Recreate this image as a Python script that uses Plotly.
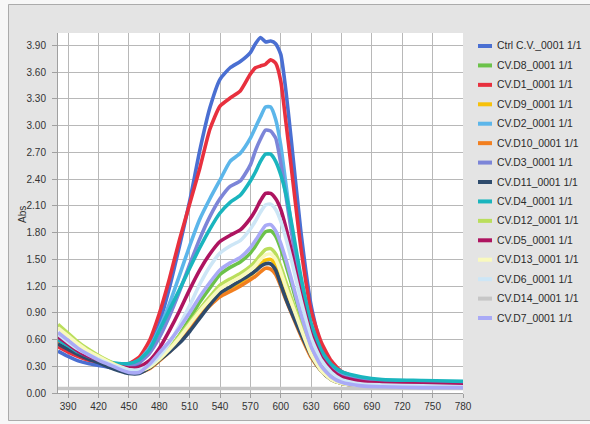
import plotly.graph_objects as go

# ---------------- data ----------------
wavelength = [380, 390, 400, 410, 420, 430, 440, 450, 460, 470, 480, 490, 500, 510, 520, 530, 540, 550, 560, 570,
              575, 580, 585, 590, 595, 600, 605, 610, 620, 630, 640, 650, 660, 680, 700, 740, 780]

ctrl = [0.47, 0.41, 0.36, 0.33, 0.31, 0.29, 0.27, 0.27, 0.33, 0.50, 0.78, 1.18, 1.65, 2.15, 2.72, 3.20, 3.52, 3.65, 3.72, 3.82,
        3.92, 3.99, 3.94, 3.95, 3.92, 3.80, 3.40, 2.88, 1.80, 0.98, 0.52, 0.31, 0.21, 0.14, 0.12, 0.11, 0.10]
d8 = [0.60, 0.53, 0.46, 0.40, 0.35, 0.31, 0.27, 0.24, 0.24, 0.28, 0.37, 0.50, 0.65, 0.83, 1.02, 1.18, 1.33, 1.41, 1.47, 1.57,
      1.65, 1.74, 1.81, 1.82, 1.76, 1.62, 1.44, 1.25, 0.85, 0.50, 0.30, 0.20, 0.16, 0.14, 0.13, 0.13, 0.12]
d1 = [0.52, 0.46, 0.41, 0.37, 0.35, 0.33, 0.32, 0.33, 0.40, 0.58, 0.89, 1.28, 1.72, 2.12, 2.52, 2.96, 3.22, 3.31, 3.39, 3.58,
      3.65, 3.67, 3.69, 3.74, 3.70, 3.50, 3.05, 2.57, 1.62, 0.92, 0.57, 0.36, 0.24, 0.16, 0.14, 0.12, 0.10]
d9 = [0.62, 0.54, 0.47, 0.41, 0.36, 0.31, 0.27, 0.24, 0.24, 0.28, 0.37, 0.47, 0.60, 0.74, 0.88, 1.01, 1.12, 1.18, 1.24, 1.32,
      1.37, 1.44, 1.49, 1.50, 1.44, 1.30, 1.14, 0.99, 0.70, 0.42, 0.25, 0.15, 0.11, 0.08, 0.07, 0.07, 0.06]
d2 = [0.57, 0.50, 0.44, 0.39, 0.36, 0.34, 0.32, 0.32, 0.37, 0.50, 0.72, 1.00, 1.32, 1.65, 1.95, 2.18, 2.39, 2.60, 2.69, 2.86,
      2.98, 3.10, 3.21, 3.21, 3.07, 2.78, 2.35, 1.92, 1.18, 0.70, 0.43, 0.28, 0.20, 0.15, 0.13, 0.12, 0.11]
d10 = [0.58, 0.51, 0.45, 0.39, 0.35, 0.30, 0.26, 0.23, 0.23, 0.27, 0.36, 0.46, 0.58, 0.72, 0.86, 0.98, 1.08, 1.14, 1.20, 1.27,
       1.31, 1.36, 1.40, 1.39, 1.33, 1.20, 1.05, 0.91, 0.64, 0.40, 0.25, 0.16, 0.11, 0.08, 0.07, 0.07, 0.06]
d3 = [0.60, 0.52, 0.45, 0.40, 0.37, 0.34, 0.32, 0.31, 0.34, 0.44, 0.62, 0.86, 1.14, 1.44, 1.73, 1.98, 2.18, 2.32, 2.38, 2.56,
      2.72, 2.85, 2.95, 2.94, 2.86, 2.58, 2.22, 1.85, 1.18, 0.70, 0.42, 0.27, 0.19, 0.14, 0.12, 0.11, 0.10]
d11 = [0.55, 0.49, 0.43, 0.38, 0.34, 0.29, 0.25, 0.22, 0.22, 0.28, 0.37, 0.46, 0.56, 0.69, 0.84, 0.99, 1.12, 1.19, 1.26, 1.33,
       1.37, 1.42, 1.45, 1.45, 1.38, 1.22, 1.06, 0.92, 0.66, 0.42, 0.25, 0.15, 0.11, 0.08, 0.07, 0.07, 0.06]
d4 = [0.60, 0.53, 0.46, 0.41, 0.38, 0.35, 0.33, 0.33, 0.37, 0.48, 0.70, 0.93, 1.16, 1.40, 1.63, 1.84, 2.02, 2.14, 2.22, 2.38,
      2.48, 2.60, 2.68, 2.68, 2.60, 2.45, 2.24, 1.95, 1.30, 0.78, 0.48, 0.32, 0.24, 0.18, 0.15, 0.14, 0.13]
d12 = [0.77, 0.67, 0.57, 0.49, 0.42, 0.36, 0.30, 0.26, 0.25, 0.29, 0.38, 0.50, 0.64, 0.79, 0.94, 1.08, 1.21, 1.28, 1.34, 1.42,
       1.48, 1.55, 1.61, 1.62, 1.56, 1.42, 1.25, 1.08, 0.75, 0.45, 0.26, 0.16, 0.11, 0.09, 0.08, 0.07, 0.07]
d5 = [0.63, 0.55, 0.47, 0.41, 0.37, 0.33, 0.30, 0.28, 0.29, 0.36, 0.50, 0.70, 0.92, 1.16, 1.38, 1.56, 1.70, 1.77, 1.83, 1.96,
      2.05, 2.16, 2.24, 2.24, 2.18, 2.06, 1.86, 1.62, 1.10, 0.66, 0.40, 0.26, 0.18, 0.13, 0.11, 0.10, 0.09]
d13 = [0.73, 0.64, 0.55, 0.47, 0.41, 0.35, 0.30, 0.26, 0.25, 0.29, 0.38, 0.49, 0.62, 0.77, 0.92, 1.05, 1.17, 1.24, 1.30, 1.38,
       1.43, 1.50, 1.55, 1.56, 1.50, 1.36, 1.19, 1.03, 0.72, 0.43, 0.25, 0.15, 0.11, 0.08, 0.07, 0.07, 0.06]
d6 = [0.66, 0.57, 0.49, 0.43, 0.38, 0.33, 0.29, 0.26, 0.26, 0.31, 0.41, 0.56, 0.76, 0.98, 1.22, 1.42, 1.57, 1.65, 1.71, 1.84,
      1.93, 2.03, 2.11, 2.12, 2.06, 1.93, 1.74, 1.52, 1.04, 0.62, 0.37, 0.23, 0.15, 0.10, 0.09, 0.08, 0.07]
d14 = [0.05, 0.05, 0.05, 0.05, 0.05, 0.05, 0.05, 0.05, 0.05, 0.05, 0.05, 0.05, 0.05, 0.05, 0.05, 0.05, 0.05, 0.05, 0.05, 0.05,
       0.05, 0.05, 0.05, 0.05, 0.05, 0.05, 0.05, 0.05, 0.05, 0.05, 0.05, 0.05, 0.05, 0.05, 0.05, 0.05, 0.05]
d7 = [0.68, 0.59, 0.50, 0.43, 0.37, 0.32, 0.27, 0.23, 0.23, 0.32, 0.45, 0.58, 0.73, 0.90, 1.08, 1.24, 1.38, 1.46, 1.52, 1.63,
      1.71, 1.80, 1.88, 1.89, 1.82, 1.68, 1.50, 1.30, 0.88, 0.52, 0.30, 0.18, 0.12, 0.08, 0.07, 0.06, 0.06]

series_names = ["Ctrl C.V._0001 1/1", "CV.D8_0001 1/1", "CV.D1_0001 1/1", "CV.D9_0001 1/1", "CV.D2_0001 1/1",
                "CV.D10_0001 1/1", "CV.D3_0001 1/1", "CV.D11_0001 1/1", "CV.D4_0001 1/1", "CV.D12_0001 1/1",
                "CV.D5_0001 1/1", "CV.D13_0001 1/1", "CV.D6_0001 1/1", "CV.D14_0001 1/1", "CV.D7_0001 1/1"]
series_values = [ctrl, d8, d1, d9, d2, d10, d3, d11, d4, d12, d5, d13, d6, d14, d7]
series_colors = ["#4a6fd2", "#6cc24a", "#e8303e", "#f7c10a", "#5cb6ea", "#f27f1f", "#7c85d8", "#2e4b6c",
                 "#1ab5be", "#bade5c", "#ae1460", "#f9f9bd", "#cde6f6", "#c6c6c6", "#a9aaf6"]

x_ticks = [390, 420, 450, 480, 510, 540, 570, 600, 630, 660, 690, 720, 750, 780]
y_ticks = [0.0, 0.3, 0.6, 0.9, 1.2, 1.5, 1.8, 2.1, 2.4, 2.7, 3.0, 3.3, 3.6, 3.9]

# ---------------- figure ----------------
W, H = 590, 424
ML, MR, MT, MB = 58, 127, 33, 31
PW, PH = W - ML - MR, H - MT - MB


def px_x(px):
    return (px - ML) / PW


def px_y(py):
    return (H - MB - py) / PH


FONT = "Liberation Sans, Arial, sans-serif"

fig = go.Figure()
for name, vals, col in zip(series_names, series_values, series_colors):
    fig.add_trace(go.Scatter(x=wavelength, y=vals, name=name, mode="lines",
                             line=dict(color=col, width=3.6, shape="spline", smoothing=0.55),
                             showlegend=False))

shapes = []
annotations = []
# outer frame look
shapes.append(dict(type="rect", xref="paper", yref="paper", x0=px_x(0), x1=px_x(8), y0=px_y(H), y1=px_y(0),
                   fillcolor="#f7f7f7", line=dict(width=0), layer="above"))
shapes.append(dict(type="rect", xref="paper", yref="paper", x0=px_x(0), x1=px_x(W), y0=px_y(4), y1=px_y(0),
                   fillcolor="#f7f7f7", line=dict(width=0), layer="above"))
shapes.append(dict(type="rect", xref="paper", yref="paper", x0=px_x(0), x1=px_x(W), y0=px_y(H), y1=px_y(421),
                   fillcolor="#f7f7f7", line=dict(width=0), layer="above"))
shapes.append(dict(type="rect", xref="paper", yref="paper", x0=px_x(8.5), x1=px_x(W + 5), y0=px_y(420.5), y1=px_y(4.5),
                   fillcolor="rgba(0,0,0,0)", line=dict(color="#ababab", width=1), layer="above"))

# legend (drawn manually to match the compact original)
for i, (name, col) in enumerate(zip(series_names, series_colors)):
    yy = 46 + i * 19.43
    shapes.append(dict(type="line", xref="paper", yref="paper", x0=px_x(478), x1=px_x(492),
                       y0=px_y(yy), y1=px_y(yy), line=dict(color=col, width=4)))
    annotations.append(dict(xref="paper", yref="paper", x=px_x(495), y=px_y(yy), text=name, showarrow=False,
                            xanchor="left", yanchor="middle", font=dict(family=FONT, size=10.4, color="#2a2a2a")))

# y-axis title
annotations.append(dict(xref="paper", yref="paper", x=px_x(22), y=px_y(215), text="Abs", showarrow=False,
                        textangle=-90, xanchor="center", yanchor="middle",
                        font=dict(family=FONT, size=10, color="#333333")))

fig.update_layout(
    width=W, height=H,
    margin=dict(l=ML, r=MR, t=MT, b=MB),
    paper_bgcolor="#e4e4e4",
    plot_bgcolor="#ffffff",
    font=dict(family=FONT, size=10, color="#333333"),
    shapes=shapes,
    annotations=annotations,
    xaxis=dict(range=[380, 780], tickmode="array", tickvals=x_ticks, ticktext=[str(v) for v in x_ticks],
               showgrid=True, gridcolor="#b8b8b8", gridwidth=1, zeroline=False,
               showline=True, linecolor="#a0a0a0", linewidth=1,
               ticks="outside", ticklen=4, tickcolor="#a0a0a0", tickfont=dict(size=10, color="#333333")),
    yaxis=dict(range=[0, 4.04], tickmode="array", tickvals=y_ticks, ticktext=["%.2f" % v for v in y_ticks],
               showgrid=True, gridcolor="#b8b8b8", gridwidth=1, zeroline=False,
               showline=True, linecolor="#a0a0a0", linewidth=1,
               ticks="outside", ticklen=5, tickcolor="#a0a0a0", ticklabelstandoff=4,
               tickfont=dict(size=10, color="#333333")),
)

fig.write_html("out.html")
